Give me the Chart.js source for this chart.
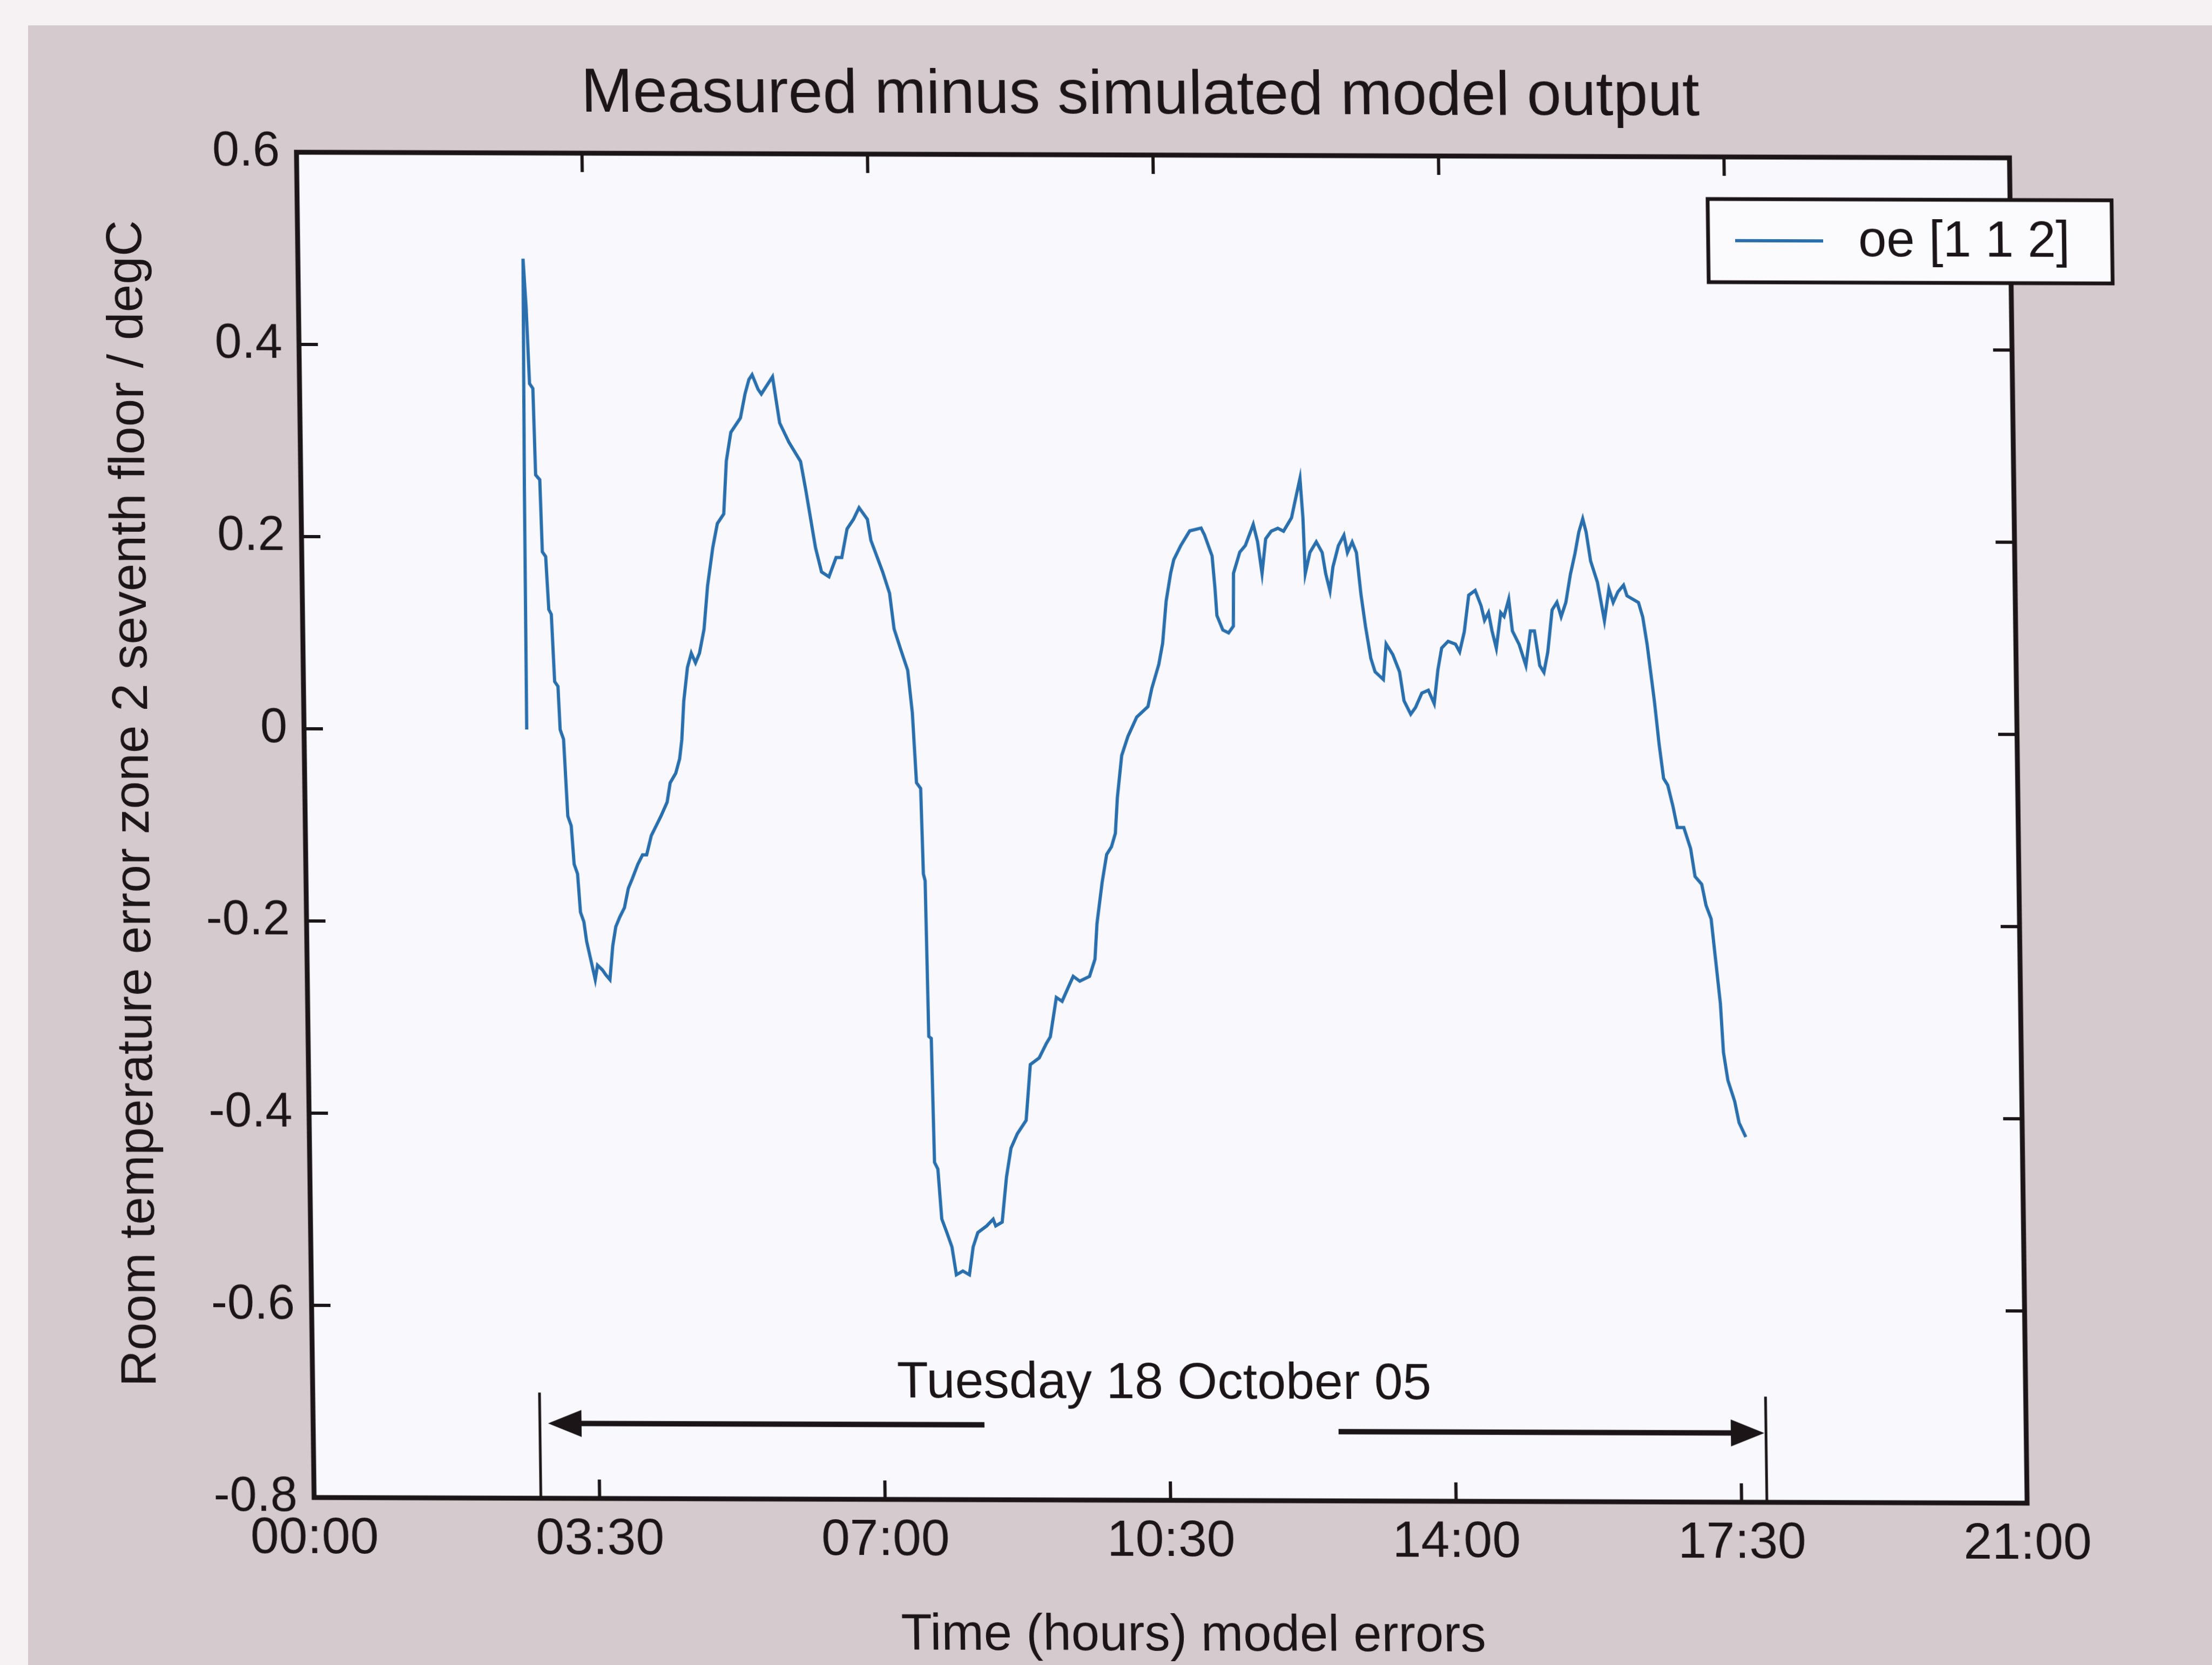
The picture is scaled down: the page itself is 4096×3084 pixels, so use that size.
<!DOCTYPE html>
<html lang="en">
<head>
<meta charset="UTF-8">
<title>Measured minus simulated model output</title>
<script src="https://cdn.jsdelivr.net/npm/chart.js"></script>
<style>
  html, body { margin: 0; padding: 0; background: #f6f2f3; }
  #page { position: relative; width: 4096px; height: 3084px; overflow: hidden; }
  #paper { position: absolute; left: 52px; top: 47px; right: 0; bottom: 0; background: #d5cbce; }
  /* the printed figure sits slightly askew on the page */
  #plot { position: absolute; left: 0; top: 0;
          transform-origin: 549px 282px;
          transform: matrix(1, 0.0033, 0.0131, 1, 0, 0); }
</style>
</head>
<body>
<div id="page">
  <div id="paper"></div>
  <canvas id="plot" width="4096" height="3084"></canvas>
</div>

<script>
// oe [1 1 2] output error, measured minus simulated (degC), against time of day (h)
const hours = [
  2.73, 2.74, 2.76, 2.79, 2.82, 2.86, 2.88, 2.93, 2.95, 2.99,
  3.02, 3.05, 3.08, 3.12, 3.14, 3.18, 3.22, 3.26, 3.29, 3.33,
  3.36, 3.40, 3.43, 3.48, 3.53, 3.56, 3.62, 3.66, 3.71, 3.75,
  3.79, 3.84, 3.90, 3.95, 4.00, 4.07, 4.13, 4.18, 4.24, 4.30,
  4.36, 4.44, 4.48, 4.55, 4.60, 4.63, 4.66, 4.71, 4.76, 4.81,
  4.86, 4.92, 4.97, 5.04, 5.10, 5.18, 5.22, 5.28, 5.40, 5.46,
  5.51, 5.55, 5.62, 5.66, 5.80, 5.88, 5.99, 6.13, 6.19, 6.30,
  6.37, 6.46, 6.55, 6.62, 6.69, 6.77, 6.84, 6.94, 6.98, 7.12,
  7.20, 7.25, 7.33, 7.41, 7.46, 7.50, 7.55, 7.57, 7.59, 7.61,
  7.64, 7.66, 7.70, 7.74, 7.80, 7.86, 7.91, 7.99, 8.07, 8.12,
  8.18, 8.29, 8.37, 8.40, 8.48, 8.54, 8.60, 8.68, 8.79, 8.85,
  8.96, 9.05, 9.10, 9.18, 9.25, 9.33, 9.39, 9.47, 9.59, 9.66,
  9.69, 9.76, 9.82, 9.88, 9.93, 9.96, 10.02, 10.10, 10.21, 10.35,
  10.40, 10.49, 10.54, 10.59, 10.65, 10.69, 10.78, 10.89, 11.03, 11.07,
  11.16, 11.19, 11.21, 11.28, 11.35, 11.41, 11.42, 11.50, 11.57, 11.67,
  11.72, 11.77, 11.82, 11.89, 11.97, 12.04, 12.14, 12.18, 12.25, 12.28,
  12.30, 12.36, 12.44, 12.51, 12.55, 12.60, 12.64, 12.71, 12.78, 12.82,
  12.88, 12.93, 12.98, 13.03, 13.09, 13.14, 13.24, 13.28, 13.36, 13.44,
  13.49, 13.57, 13.63, 13.71, 13.79, 13.86, 13.91, 13.96, 14.04, 14.13,
  14.18, 14.24, 14.30, 14.38, 14.45, 14.49, 14.54, 14.58, 14.63, 14.69,
  14.73, 14.79, 14.83, 14.91, 14.99, 15.05, 15.10, 15.16, 15.21, 15.26,
  15.32, 15.38, 15.43, 15.49, 15.55, 15.61, 15.66, 15.71, 15.75, 15.80,
  15.88, 15.96, 16.02, 16.07, 16.13, 16.20, 16.24, 16.38, 16.43, 16.48,
  16.56, 16.61, 16.66, 16.71, 16.77, 16.82, 16.90, 16.98, 17.03, 17.11,
  17.16, 17.22, 17.27, 17.32, 17.35, 17.40, 17.48, 17.53, 17.61
];
const errorDegC = [
  0.00, 0.25, 0.49, 0.44, 0.36, 0.355, 0.265, 0.26, 0.185, 0.18,
  0.125, 0.12, 0.05, 0.045, 0.00, -0.01, -0.09, -0.10, -0.14, -0.15,
  -0.19, -0.20, -0.22, -0.24, -0.26, -0.245, -0.25, -0.255, -0.26, -0.225,
  -0.205, -0.195, -0.185, -0.165, -0.155, -0.14, -0.13, -0.13, -0.11, -0.10,
  -0.09, -0.075, -0.055, -0.045, -0.03, -0.01, 0.03, 0.065, 0.08, 0.07,
  0.08, 0.105, 0.15, 0.19, 0.215, 0.225, 0.28, 0.31, 0.325, 0.35,
  0.365, 0.37, 0.355, 0.35, 0.368, 0.32, 0.30, 0.28, 0.25, 0.19,
  0.165, 0.16, 0.18, 0.18, 0.21, 0.22, 0.232, 0.22, 0.198, 0.165,
  0.143, 0.106, 0.084, 0.063, 0.019, -0.054, -0.06, -0.149, -0.156, -0.318,
  -0.32, -0.449, -0.456, -0.508, -0.522, -0.537, -0.566, -0.562, -0.566, -0.537,
  -0.522, -0.515, -0.508, -0.515, -0.511, -0.464, -0.434, -0.419, -0.405, -0.347,
  -0.34, -0.325, -0.318, -0.277, -0.281, -0.266, -0.255, -0.26, -0.255, -0.237,
  -0.20, -0.157, -0.128, -0.12, -0.106, -0.069, -0.025, -0.005, 0.015, 0.026,
  0.045, 0.07, 0.092, 0.136, 0.165, 0.179, 0.194, 0.209, 0.212, 0.205,
  0.183, 0.15, 0.121, 0.106, 0.103, 0.11, 0.165, 0.187, 0.194, 0.216,
  0.198, 0.165, 0.201, 0.209, 0.212, 0.209, 0.223, 0.238, 0.264, 0.223,
  0.165, 0.187, 0.198, 0.187, 0.165, 0.147, 0.172, 0.194, 0.205, 0.187,
  0.198, 0.187, 0.143, 0.11, 0.077, 0.063, 0.055, 0.092, 0.081, 0.063,
  0.033, 0.019, 0.026, 0.041, 0.044, 0.03, 0.065, 0.088, 0.095, 0.092,
  0.084, 0.105, 0.143, 0.148, 0.132, 0.117, 0.125, 0.106, 0.088, 0.125,
  0.121, 0.139, 0.106, 0.092, 0.07, 0.106, 0.106, 0.07, 0.063, 0.084,
  0.128, 0.136, 0.121, 0.136, 0.165, 0.187, 0.209, 0.223, 0.209, 0.179,
  0.157, 0.117, 0.15, 0.136, 0.147, 0.154, 0.143, 0.136, 0.121, 0.092,
  0.033, -0.011, -0.047, -0.054, -0.076, -0.098, -0.098, -0.12, -0.149, -0.157,
  -0.179, -0.193, -0.237, -0.281, -0.332, -0.361, -0.383, -0.405, -0.42
];

// span of the run marked under the trace
const dayLabel = 'Tuesday 18 October 05';
const dayLabelAt = [10.44, -0.694];       // hours, degC (text baseline)
const spanMarks = [2.78, 17.81];          // hours
const spanMarkTop = -0.69;
const arrowTails = [8.23, 12.57];
const arrowTips = [2.88, 17.79];
const arrowLevels = [-0.722, -0.728];

const INK = '#1b1517';
const FONT = "'Liberation Sans', Arial, Helvetica, sans-serif";
const TICK = 35;

function hhmm(h) {
  const m = Math.round(h * 60);
  return String(Math.floor(m / 60)).padStart(2, '0') + ':' + String(m % 60).padStart(2, '0');
}

// plot box with inward ticks on all four sides
const matlabFrame = {
  id: 'matlabFrame',
  beforeDraw(chart) {
    const { ctx, chartArea: a } = chart;
    ctx.save();
    ctx.fillStyle = '#f9f9fd';
    ctx.fillRect(a.left, a.top, a.right - a.left, a.bottom - a.top);
    ctx.restore();
  },
  afterDatasetsDraw(chart) {
    const { ctx, chartArea: a, scales: { x, y } } = chart;
    ctx.save();
    ctx.strokeStyle = INK;
    ctx.lineWidth = 6;
    ctx.beginPath();
    x.ticks.forEach(t => {
      const px = x.getPixelForValue(t.value);
      ctx.moveTo(px, a.bottom); ctx.lineTo(px, a.bottom - TICK);
      ctx.moveTo(px, a.top); ctx.lineTo(px, a.top + TICK);
    });
    y.ticks.forEach(t => {
      const py = y.getPixelForValue(t.value);
      ctx.moveTo(a.left, py); ctx.lineTo(a.left + TICK, py);
      ctx.moveTo(a.right, py); ctx.lineTo(a.right - TICK, py);
    });
    ctx.stroke();
    ctx.lineWidth = 9;
    ctx.strokeRect(a.left, a.top, a.right - a.left, a.bottom - a.top);
    ctx.restore();
  }
};

// date label with arrows spanning the run
const daySpan = {
  id: 'daySpan',
  afterDatasetsDraw(chart) {
    const { ctx, scales: { x, y } } = chart;
    ctx.save();
    ctx.strokeStyle = INK;
    ctx.fillStyle = INK;

    ctx.lineWidth = 5;
    ctx.beginPath();
    spanMarks.forEach(h => {
      ctx.moveTo(x.getPixelForValue(h), y.getPixelForValue(-0.8));
      ctx.lineTo(x.getPixelForValue(h), y.getPixelForValue(spanMarkTop));
    });
    ctx.stroke();

    arrowTails.forEach((tail, i) => {
      const x0 = x.getPixelForValue(tail);
      const x1 = x.getPixelForValue(arrowTips[i]);
      const py = y.getPixelForValue(arrowLevels[i]);
      const dir = Math.sign(x1 - x0);
      ctx.lineWidth = 10;
      ctx.beginPath();
      ctx.moveTo(x0, py);
      ctx.lineTo(x1 - dir * 40, py);
      ctx.stroke();
      ctx.beginPath();
      ctx.moveTo(x1, py);
      ctx.lineTo(x1 - dir * 62, py - 25);
      ctx.lineTo(x1 - dir * 62, py + 25);
      ctx.closePath();
      ctx.fill();
    });

    ctx.font = `95px ${FONT}`;
    ctx.textAlign = 'center';
    ctx.textBaseline = 'alphabetic';
    ctx.fillText(dayLabel, x.getPixelForValue(dayLabelAt[0]), y.getPixelForValue(dayLabelAt[1]));
    ctx.restore();
  }
};

// boxed legend in the upper right, overlapping the axis edge
const boxLegend = {
  id: 'boxLegend',
  afterDraw(chart) {
    const { ctx, chartArea: a } = chart;
    const ds = chart.data.datasets[0];
    const left = a.right - 560, top = a.top + 78, w = 748, h = 154;
    ctx.save();
    ctx.fillStyle = '#fbfbfe';
    ctx.fillRect(left, top, w, h);
    ctx.lineWidth = 7;
    ctx.strokeStyle = INK;
    ctx.strokeRect(left, top, w, h);
    ctx.strokeStyle = ds.borderColor;
    ctx.lineWidth = ds.borderWidth;
    ctx.beginPath();
    ctx.moveTo(left + 50, top + h / 2);
    ctx.lineTo(left + 213, top + h / 2);
    ctx.stroke();
    ctx.fillStyle = INK;
    ctx.font = `94px ${FONT}`;
    ctx.textAlign = 'left';
    ctx.textBaseline = 'middle';
    ctx.fillText(ds.label, left + 278, top + h / 2 + 2);
    ctx.restore();
  }
};

new Chart(document.getElementById('plot'), {
  type: 'line',
  data: {
    datasets: [{
      label: 'oe [1 1 2]',
      data: hours.map((h, i) => ({ x: h, y: errorDegC[i] })),
      borderColor: '#2a6fad',
      borderWidth: 6,
      pointRadius: 0,
      tension: 0,
      fill: false
    }]
  },
  options: {
    responsive: false,
    animation: false,
    events: [],
    layout: { padding: { left: 130, right: 0, top: 0, bottom: 0 } },
    plugins: {
      legend: { display: false },
      tooltip: { enabled: false },
      title: {
        display: true,
        text: 'Measured minus simulated model output',
        color: INK,
        font: { family: FONT, size: 115, weight: 'normal' },
        padding: { top: 104, bottom: 40 }
      }
    },
    scales: {
      x: {
        type: 'linear',
        min: 0,
        max: 21,
        grid: { display: false, drawTicks: false },
        border: { display: false },
        ticks: {
          stepSize: 3.5,
          padding: 20,
          autoSkip: false,
          maxRotation: 0,
          color: INK,
          font: { family: FONT, size: 95 },
          callback: v => hhmm(v)
        },
        title: {
          display: true,
          // leading spaces nudge the label right of the axis centre
          text: '   Time (hours) model errors',
          color: INK,
          font: { family: FONT, size: 94 },
          padding: { top: 0, bottom: 2 }
        },
        afterFit: s => { s.height = 310; }
      },
      y: {
        type: 'linear',
        min: -0.8,
        max: 0.6,
        grid: { display: false, drawTicks: false },
        border: { display: false },
        ticks: {
          stepSize: 0.2,
          padding: 31,
          color: INK,
          font: { family: FONT, size: 90 },
          callback: v => String(Math.round(v * 10) / 10)
        },
        title: {
          display: true,
          // leading spaces lift the label above the axis centre
          text: '   Room temperature error zone 2 seventh floor / degC',
          color: INK,
          font: { family: FONT, size: 93 },
          padding: { top: 48, bottom: 0 }
        },
        afterFit: s => { s.width = 419; }
      },
      y2: {
        type: 'linear',
        position: 'right',
        min: -0.8,
        max: 0.6,
        grid: { display: false, drawTicks: false },
        border: { display: false },
        ticks: { display: false },
        afterFit: s => { s.width = 375; }
      }
    }
  },
  plugins: [matlabFrame, daySpan, boxLegend]
});
</script>
</body>
</html>
